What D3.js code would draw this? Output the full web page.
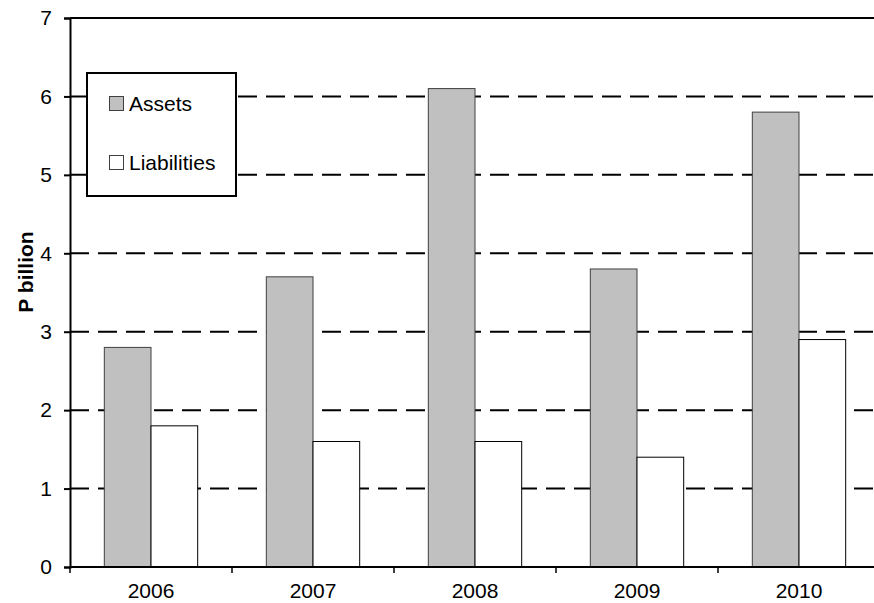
<!DOCTYPE html>
<html><head><meta charset="utf-8">
<script src="https://cdn.jsdelivr.net/npm/d3@7"></script>
<style>body{margin:0;background:#fff}svg{display:block;font-family:Arial,"Liberation Sans",sans-serif}</style>
</head><body><svg id="c" width="874" height="603"></svg>
<script>
const years = ["2006","2007","2008","2009","2010"];
const assets = [2.8, 3.7, 6.1, 3.8, 5.8];
const liabilities = [1.8, 1.6, 1.6, 1.4, 2.9];
const yTicks = [0,1,2,3,4,5,6,7];
const seriesNames = ["Assets","Liabilities"];

const svg = d3.select("#c");
const L = 70, R = 880, T = 18, B = 567;
const FONT = "Arial, 'Liberation Sans', sans-serif";
const x = d3.scaleBand().domain(years).range([L, R]).paddingInner(0).paddingOuter(0);
const xs = d3.scaleBand().domain(seriesNames).range([0, x.bandwidth()]).paddingInner(0).paddingOuter(0.735);
const y = d3.scaleLinear().domain([0, 7]).range([B, T]);

// gridlines
svg.append("g").selectAll("line").data(yTicks.filter(d => d > 0 && d < 7)).join("line")
  .attr("x1", L).attr("x2", R).attr("y1", d => y(d)).attr("y2", d => y(d))
  .attr("stroke", "#000").attr("stroke-width", 2).attr("stroke-dasharray", "19,9");
svg.append("line").attr("x1", L).attr("x2", R).attr("y1", y(7)).attr("y2", y(7))
  .attr("stroke", "#000").attr("stroke-width", 2);

// bars
const g = svg.append("g");
years.forEach((yr, i) => {
  g.append("rect").attr("x", x(yr) + xs("Assets")).attr("width", xs.bandwidth())
    .attr("y", y(assets[i])).attr("height", y(0) - y(assets[i]))
    .attr("fill", "#c0c0c0").attr("stroke", "#404040").attr("stroke-width", 1);
  g.append("rect").attr("x", x(yr) + xs("Liabilities")).attr("width", xs.bandwidth())
    .attr("y", y(liabilities[i])).attr("height", y(0) - y(liabilities[i]))
    .attr("fill", "#fff").attr("stroke", "#000").attr("stroke-width", 1);
});

// y axis
const ya = svg.append("g").attr("transform", `translate(${L},0)`)
  .call(d3.axisLeft(y).tickValues(yTicks).tickSize(6).tickPadding(12).tickFormat(d3.format("d")));
ya.attr("font-size", 21).attr("font-family", FONT);
ya.select(".domain").attr("stroke-width", 2);
ya.selectAll(".tick line").attr("stroke-width", 2);
ya.selectAll("text").attr("fill", "#000");

// x axis
svg.append("line").attr("x1", L).attr("x2", R).attr("y1", B).attr("y2", B).attr("stroke", "#000").attr("stroke-width", 2);
svg.append("g").selectAll("line").data(years.concat(["end"])).join("line")
  .attr("x1", (d, i) => L + i * x.bandwidth()).attr("x2", (d, i) => L + i * x.bandwidth())
  .attr("y1", B).attr("y2", B + 6).attr("stroke", "#000").attr("stroke-width", 1.5);
svg.append("g").selectAll("text").data(years).join("text")
  .attr("x", d => x(d) + x.bandwidth() / 2).attr("y", 598)
  .attr("text-anchor", "middle").attr("font-size", 21).text(d => d);

// y label
svg.append("text").attr("transform", "translate(33,272) rotate(-90)")
  .attr("text-anchor", "middle").attr("font-size", 21).attr("font-weight", "bold").text("P billion");

// legend
const lg = svg.append("g");
lg.append("rect").attr("x", 87).attr("y", 73).attr("width", 149).attr("height", 123)
  .attr("fill", "#fff").attr("stroke", "#000").attr("stroke-width", 2);
const legFill = ["#c0c0c0", "#fff"];
const legStroke = ["#404040", "#404040"];
seriesNames.forEach((s, i) => {
  const yy = 96 + i * 59;
  lg.append("rect").attr("x", 109.5).attr("y", yy + 0.5).attr("width", 14).attr("height", 14)
    .attr("fill", legFill[i]).attr("stroke", legStroke[i]).attr("stroke-width", 1);
  lg.append("text").attr("x", 129).attr("y", yy + 14.5).attr("font-size", 21).text(s);
});
</script></body></html>
